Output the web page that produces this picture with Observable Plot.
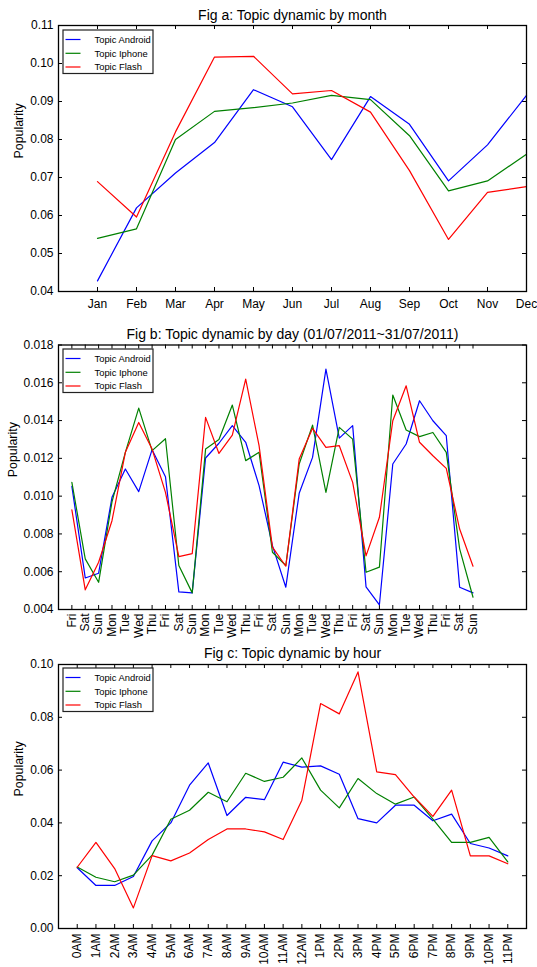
<!DOCTYPE html>
<html><head><meta charset="utf-8">
<script src="https://cdn.jsdelivr.net/npm/d3@7"></script>
<script src="https://cdn.jsdelivr.net/npm/@observablehq/plot@0.6"></script>
<style>
body{margin:0;background:#fff;font-family:"Liberation Sans",Arial,sans-serif;}
.panel{position:relative;width:537px;}
.legend{position:absolute;overflow:visible;}
</style>
</head><body>
<div id="root"></div>
<script>
const seriesNames = ["Topic Android", "Topic Iphone", "Topic Flash"];
const seriesColors = ["#0000ff", "#008000", "#ff0000"];

const months = ["Jan","Feb","Mar","Apr","May","Jun","Jul","Aug","Sep","Oct","Nov","Dec"];
const monthAndroid = [0.0428,0.0620,0.0712,0.0792,0.0931,0.0886,0.0747,0.0913,0.0840,0.0691,0.0786,0.0916];
const monthIphone  = [0.0540,0.0565,0.0800,0.0874,0.0884,0.0896,0.0916,0.0905,0.0810,0.0665,0.0691,0.0761];
const monthFlash   = [0.0689,0.0596,0.0820,0.1017,0.1019,0.0920,0.0929,0.0872,0.0718,0.0537,0.0661,0.0676];
const monthYTicks = [0.04,0.05,0.06,0.07,0.08,0.09,0.10,0.11];

const days = ["Fri","Sat","Sun","Mon","Tue","Wed","Thu","Fri","Sat","Sun","Mon","Tue","Wed","Thu","Fri","Sat","Sun","Mon","Tue","Wed","Thu","Fri","Sat","Sun","Mon","Tue","Wed","Thu","Fri","Sat","Sun"];
const dayAndroid = [0.01052,0.00567,0.00592,0.00994,0.01144,0.01024,0.01246,0.01103,0.00493,0.00488,0.01202,0.01280,0.01373,0.01285,0.01056,0.00738,0.00518,0.01015,0.01205,0.01672,0.01307,0.01373,0.00520,0.00425,0.01170,0.01276,0.01505,0.01399,0.01320,0.00518,0.00488];
const dayIphone  = [0.01073,0.00668,0.00544,0.00970,0.01232,0.01466,0.01241,0.01304,0.00633,0.00488,0.01249,0.01300,0.01482,0.01188,0.01232,0.00703,0.00633,0.01170,0.01376,0.01020,0.01364,0.01302,0.00597,0.00624,0.01535,0.01350,0.01315,0.01337,0.01232,0.00721,0.00465];
const dayFlash   = [0.00927,0.00504,0.00650,0.00870,0.01232,0.01390,0.01249,0.01020,0.00680,0.00696,0.01417,0.01226,0.01323,0.01619,0.01267,0.00730,0.00629,0.01196,0.01359,0.01258,0.01267,0.01073,0.00684,0.00888,0.01399,0.01584,0.01285,0.01214,0.01147,0.00826,0.00629];
const dayYTicks = [0.004,0.006,0.008,0.010,0.012,0.014,0.016,0.018];

const hours = ["0AM","1AM","2AM","3AM","4AM","5AM","6AM","7AM","8AM","9AM","10AM","11AM","12AM","1PM","2PM","3PM","4PM","5PM","6PM","7PM","8PM","9PM","10PM","11PM"];
const hourAndroid = [0.0230,0.0163,0.0163,0.0197,0.0332,0.0400,0.0543,0.0627,0.0428,0.0497,0.0488,0.0630,0.0611,0.0616,0.0584,0.0416,0.0400,0.0467,0.0467,0.0408,0.0433,0.0322,0.0305,0.0275];
const hourIphone  = [0.0233,0.0194,0.0177,0.0202,0.0278,0.0414,0.0448,0.0516,0.0480,0.0588,0.0557,0.0573,0.0646,0.0524,0.0457,0.0568,0.0511,0.0471,0.0498,0.0414,0.0326,0.0326,0.0345,0.0252];
const hourFlash   = [0.0232,0.0326,0.0227,0.0078,0.0276,0.0256,0.0286,0.0337,0.0377,0.0377,0.0366,0.0337,0.0486,0.0852,0.0813,0.0972,0.0593,0.0583,0.0498,0.0425,0.0524,0.0275,0.0275,0.0245];
const hourYTicks = [0.00,0.02,0.04,0.06,0.08,0.10];

const W = 537, ML = 58, MR = 11;
const SVGNS = "http://www.w3.org/2000/svg";

function legend(top) {
  const s = document.createElementNS(SVGNS, "svg");
  s.setAttribute("class", "legend");
  s.setAttribute("width", 92);
  s.setAttribute("height", 46);
  s.style.left = "61.5px";
  s.style.top = top + "px";
  const rect = document.createElementNS(SVGNS, "rect");
  rect.setAttribute("x", 1); rect.setAttribute("y", 1);
  rect.setAttribute("width", 90); rect.setAttribute("height", 43.5);
  rect.setAttribute("fill", "#fff"); rect.setAttribute("stroke", "#222"); rect.setAttribute("stroke-width", 1.2);
  s.appendChild(rect);
  const rowY = [10.5, 24.3, 38];
  seriesNames.forEach((name, i) => {
    const ln = document.createElementNS(SVGNS, "line");
    ln.setAttribute("x1", 3.5); ln.setAttribute("x2", 18.5);
    ln.setAttribute("y1", rowY[i]); ln.setAttribute("y2", rowY[i]);
    ln.setAttribute("stroke", seriesColors[i]); ln.setAttribute("stroke-width", 1.2);
    s.appendChild(ln);
    const tx = document.createElementNS(SVGNS, "text");
    tx.setAttribute("x", 32.5); tx.setAttribute("y", rowY[i] + 3.3);
    tx.setAttribute("font-size", 9.4);
    tx.setAttribute("font-family", "Liberation Sans, Arial, sans-serif");
    tx.setAttribute("fill", "#000");
    tx.textContent = name;
    s.appendChild(tx);
  });
  return s;
}

function panel(cfg) {
  const innerH = cfg.height - cfg.mt - cfg.mb;
  const innerW = W - ML - MR;
  const rows = [];
  cfg.series.forEach((vals, s) => vals.forEach((v, i) => rows.push({series: seriesNames[s], i: i + 1, v})));
  const xt = d3.range(1, cfg.labels.length + 1);
  const fmt = d3.format(cfg.yFmt);
  const svg = Plot.plot({
    width: W, height: cfg.height,
    marginLeft: ML, marginRight: MR, marginTop: cfg.mt, marginBottom: cfg.mb,
    style: {fontFamily: "Liberation Sans, Arial, sans-serif", fontSize: "12px", color: "#000", background: "#fff", overflow: "visible"},
    x: {domain: cfg.xDomain},
    y: {domain: [cfg.yTicks[0], cfg.yTicks[cfg.yTicks.length - 1]]},
    color: {domain: seriesNames, range: seriesColors},
    marks: [
      Plot.axisX(xt, {tickSize: 0, tickPadding: cfg.xPad, tickFormat: i => cfg.labels[i - 1], tickRotate: cfg.rotate, label: null, fontSize: 12}),
      Plot.axisY(cfg.yTicks, {tickSize: 0, tickPadding: 5, tickFormat: fmt, label: null, fontSize: 12}),
      Plot.tickX(xt, {x: d => d, insetTop: innerH - 4, stroke: "#000"}),
      Plot.tickX(xt, {x: d => d, insetBottom: innerH - 4, stroke: "#000"}),
      Plot.tickY(cfg.yTicks, {y: d => d, insetRight: innerW - 4, stroke: "#000"}),
      Plot.tickY(cfg.yTicks, {y: d => d, insetLeft: innerW - 4, stroke: "#000"}),
      Plot.line(rows, {x: "i", y: "v", z: "series", stroke: "series", strokeWidth: 1.2}),
      Plot.frame({stroke: "#000", strokeWidth: 1.3}),
      Plot.text([cfg.title], {frameAnchor: "top", lineAnchor: "middle", dy: cfg.titleDy, fontSize: 14, text: d => d}),
      Plot.text(["Popularity"], {frameAnchor: "left", lineAnchor: "middle", dx: cfg.ylabDx, rotate: -90, fontSize: 12.4, text: d => d})
    ]
  });
  const div = document.createElement("div");
  div.className = "panel";
  div.style.height = cfg.height + "px";
  div.appendChild(svg);
  div.appendChild(legend(cfg.legendTop - 1));
  return div;
}

const root = document.getElementById("root");
root.appendChild(panel({
  title: "Fig a: Topic dynamic by month", labels: months, series: [monthAndroid, monthIphone, monthFlash],
  xDomain: [0, 12], yTicks: monthYTicks, yFmt: ".2f", height: 315, mt: 25, mb: 24,
  xPad: 8, rotate: 0, titleDy: -10, ylabDx: -39, legendTop: 29.7
}));
root.appendChild(panel({
  title: "Fig b: Topic dynamic by day (01/07/2011~31/07/2011)", labels: days, series: [dayAndroid, dayIphone, dayFlash],
  xDomain: [0, 35], yTicks: dayYTicks, yFmt: ".3f", height: 330, mt: 29.5, mb: 36,
  xPad: 4, rotate: -90, titleDy: -10.5, ylabDx: -45, legendTop: 34
}));
root.appendChild(panel({
  title: "Fig c: Topic dynamic by hour", labels: hours, series: [hourAndroid, hourIphone, hourFlash],
  xDomain: [0, 25], yTicks: hourYTicks, yFmt: ".2f", height: 322, mt: 19, mb: 39,
  xPad: 5, rotate: -90, titleDy: -10.5, ylabDx: -39, legendTop: 23.3
}));
</script>
</body></html>
